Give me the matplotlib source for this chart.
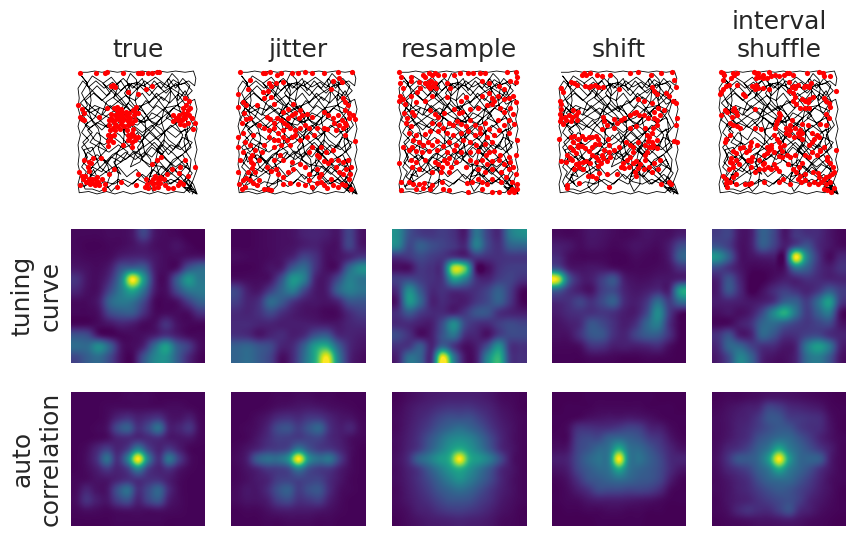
import numpy as np
import matplotlib
matplotlib.use("Agg")
import matplotlib.pyplot as plt

plt.rcParams["font.family"] = "DejaVu Sans"
plt.rcParams["text.color"] = "#262626"
plt.rcParams["axes.labelcolor"] = "#262626"

titles = ["true", "jitter", "resample", "shift", "interval\nshuffle"]
row_labels = ["tuning\ncurve", "auto\ncorrelation"]

# Animal trajectory in arena units (0-100, y measured from the top wall)
path_xy = [
    (2,1),(8,1),(14,0),(20,1),(27,0),(33,1),(40,0),(47,1),(54,0),(60,1),(68,0),(75,1),(82,0),(90,1),(97,0),(99,6),(98,12),(93,8),(86,11),(80,7),
    (74,14),(69,9),(62,13),(56,8),(50,15),(43,10),(36,16),(29,9),(22,14),(15,8),(9,13),(4,8),(0,14),(1,22),(0,30),(2,37),(0,45),(2,52),(0,60),(1,68),
    (0,76),(2,84),(0,92),(1,99),(9,98),(16,100),(24,98),(31,100),(38,98),(45,100),(53,98),(60,100),(67,98),(74,100),(82,98),(89,99),(95,93),(100,100),(93,97),(97,88),
    (100,80),(98,72),(100,64),(98,55),(100,47),(98,39),(100,31),(98,23),(90,27),(84,19),(77,26),(70,21),(63,30),(57,24),(50,33),(42,26),(35,35),(27,28),(20,36),(12,30),
    (6,24),(13,18),(20,24),(27,18),(21,10),(28,5),(34,12),(30,22),(38,28),(33,40),(25,46),(16,42),(8,48),(14,56),(22,60),(30,54),(38,60),(45,52),(52,58),(60,50),
    (67,56),(74,48),(82,54),(90,47),(93,58),(86,64),(78,60),(70,68),(62,62),(55,70),(47,65),(40,72),(32,67),(24,74),(16,68),(8,74),(5,64),(12,62),(18,78),(26,84),
    (34,78),(41,86),(49,80),(56,88),(63,80),(71,86),(78,78),(85,84),(92,76),(88,68),(80,72),(74,80),(67,72),(60,78),(54,72),(50,62),(56,54),(64,46),(70,38),(62,34),
    (56,42),(48,38),(44,46),(36,48),(28,40),(20,48),(12,40),(6,34),(14,28),(24,32),(32,26),(40,20),(48,24),(54,18),(60,26),(66,18),(72,24),(78,16),(84,24),(90,16),
    (94,24),(88,34),(80,30),(74,38),(82,42),(90,38),(94,46),(86,50),(78,44),(70,52),(62,44),(54,50),(46,44),(38,38),(30,46),(24,56),(16,50),(10,58),(18,62),(26,66),
    (34,60),(42,66),(36,74),(28,70),(20,82),(12,78),(6,86),(13,92),(10,84),(16,86),(13,80),(9,88),(15,94),(22,90),(30,92),(38,88),(46,92),(54,84),(62,90),(70,92),
    (78,88),(86,92),(92,86),(95,94),(90,90),(96,96),(88,94),(94,99),(84,88),(76,92),(68,84),(60,86),(66,76),(72,66),(64,58),(58,64),(52,74),(44,78),(48,68),(55,60),
    (50,50),(44,56),(38,50),(42,42),(50,44),(58,36),(66,28),(72,32),(78,36),(68,44),(60,40),(52,28),(44,32),(36,22),(28,14),(38,6),(46,14),(54,6),(58,16),(64,8),
    (70,14),(76,6),(82,14),(88,6),(94,12),(90,20),(82,10),(74,18),(67,12),(60,20),(52,12),(44,20),(36,8),(24,20),(16,12),(8,20),(2,26),(10,34),(18,30),(14,38),
    (6,44),(12,50),(4,58),(10,66),(18,58),(24,64),(16,72),(8,66),(4,74),(10,80),(20,70),(28,78),(36,84),(30,74),(40,66),(48,72),(56,66),(62,70),(70,60),(76,68),
    (84,60),(90,66),(96,58),(88,54),(80,64),(72,56),(66,64),(74,72),(82,78),(90,72),(94,80),(86,76),(78,84),(70,78),(64,86),(58,92),(50,88),(42,94),(34,88),(26,94),
    (18,98),(12,96),(6,96),(3,90),(7,82),(3,78),(8,70),(3,62),(9,56),(3,50),(8,42),(3,34),(8,28),(3,18),(8,10),(3,4),
    (7,9),(10,16),(11,24),(9,33),(12,41),(17,47),(19,55),(17,63),(20,71),(25,77),(27,85),(24,93),(28,98),(33,93),(34,84),(31,75),(33,66),(38,59),(39,50),(36,41),
    (38,32),(43,25),(44,16),(41,8),(44,2),(49,7),(50,15),(48,24),(51,33),(56,39),(57,48),(54,57),(56,66),(61,72),(62,81),(59,90),(63,98),(68,92),(68,83),(65,74),
    (67,65),(72,59),(73,50),(70,41),(72,32),(77,25),(78,16),(75,8),(79,2),(84,7),(85,15),(83,24),(86,33),(91,39),(92,48),(89,57),(91,66),(95,72),(94,81),(90,88),
    (94,95),(88,88),(80,78),(73,70),(65,62),(57,55),(48,47),(40,40),(31,33),(23,26),(15,19),(7,11),(12,4),(20,9),(30,18),(38,27),(47,35),(55,44),(63,51),(71,60),
    (80,67),(88,75),(96,83),(90,92),(82,86),(72,78),(60,76),(50,70),(42,60),(35,52),(24,45),(15,37),(6,30),(2,40),(10,46),(18,41),(26,35),(34,30),(44,37),(53,42),
    (64,38),(73,30),(83,28),(92,32),(85,41),(76,47),(66,54),(55,62),(44,69),(33,76),(22,83),(12,90),(5,94),(12,84),(20,77),(29,68),(38,63),(48,58),(58,49),(68,40),
    (78,32),(88,24),(96,16),(90,10),(80,12),(70,18),(60,25),(50,30),(40,35),(30,40),(20,35),(24,25),(33,19),(40,12),(50,9),(60,15),(68,24),(75,33),(82,43),(88,52),
    (84,62),(76,56),(70,47),(62,42),(55,33),(47,28),(39,18),(45,10),(55,12),(65,5),(72,10),(85,18),(95,25),(92,35),(97,44),(90,52),(95,62),(85,70),(78,76),(70,84),
    (78,92),(88,84),(97,92),(100,100),(92,95),(98,97),(96,100),
]

# Spike locations for each spike-time condition, same units as the trajectory
spikes_true = [
    (2,2),(15,2),(23,2),(24,1),(38,2),(50,2),(52,2),(54,2),(59,2),(62,2),(66,1),(68,1),(29,11),(30,12),(31,13),(28,12),(42,17),(50,19),(57,15),(62,12),
    (0,28),(3,31),(5,34),(3,39),(5,40),(2,37),(30,30),(33,29),(36,31),(28,35),(31,36),(34,34),(37,33),(40,36),(43,34),(46,32),(49,29),(26,40),(29,41),
    (32,39),(35,40),(38,38),(41,40),(44,38),(47,36),(50,34),(26,44),(29,46),(33,45),(36,43),(39,45),(42,44),(45,42),(48,40),(27,48),(31,48),(35,47),
    (25,52),(28,53),(25,57),(29,58),(41,48),(42,52),(45,50),(47,53),(42,56),(45,58),(48,56),(38,60),(45,62),(50,54),(25,61),(18,37),(24,30),
    (34,37),(37,41),(40,33),(31,43),(44,41),(28,38),(36,36),(42,37),(33,32),(48,33),(30,52),(27,55),(44,54),(46,47),
    (82,38),(85,36),(88,34),(80,36),(84,40),(87,40),(90,38),(93,36),(92,32),(91,28),(93,24),(90,22),(88,30),(86,43),(89,44),(92,42),(96,38),(98,42),(80,41),(97,47),(85,39),(89,37),(91,35),(94,30),
    (9,74),(11,75),(8,78),(9,81),(6,85),(4,88),(2,93),(7,90),(11,90),(14,93),(17,90),(20,88),(16,86),(23,92),(22,96),(3,85),(1,82),(12,88),(10,92),(14,88),(5,72),(13,71),(19,71),(9,88),(12,91),(15,91),(18,93),
    (26,84),(30,80),(33,94),(36,90),(49,93),(50,84),(57,88),(58,92),(59,95),(56,94),(63,92),(63,88),(65,85),(67,88),(69,91),(67,94),(70,87),(72,88),(75,84),(73,93),(61,90),(66,91),(64,95),(69,86),
    (76,95),(80,95),(84,93),(88,92),(86,90),(85,83),(86,78),(92,85),(98,78),(79,80),(62,76),(66,72),(70,70),(90,72),
]
spikes_jitter = [
    (2,1),(21,2),(23,2),(27,1),(33,3),(36,2),(45,2),(50,2),(56,1),(62,2),(72,2),(84,1),(96,1),(10,7),(26,10),(28,12),(32,10),(38,9),(8,15),(21,17),(25,16),(80,8),(85,6),(87,9),(78,15),
    (0,19),(4,25),(7,28),(22,22),(28,21),(30,27),(46,27),(42,31),(38,33),(52,32),(88,22),(90,25),(92,28),(90,32),(93,34),(0,29),(5,34),(7,39),(10,38),(3,42),(16,28),
    (24,37),(27,39),(30,42),(33,38),(36,40),(39,42),(42,38),(45,36),(48,34),(51,38),(54,36),(58,35),(62,37),(72,33),(76,36),(80,38),(84,36),(87,40),(90,42),(93,38),(97,36),(98,39),
    (85,44),(88,46),(91,44),(81,42),(18,44),(22,46),(26,48),(30,46),(34,50),(38,48),(41,44),(44,46),(48,48),(52,46),(56,44),(60,46),(66,46),(72,46),(75,47),(82,48),(13,52),(4,50),(0,54),
    (26,54),(30,56),(34,56),(38,54),(41,56),(45,54),(48,52),(52,56),(58,54),(64,52),(90,52),(98,57),(6,58),(10,60),(14,64),(22,60),(30,62),(36,60),(44,60),(62,62),(70,62),(80,64),
    (0,62),(4,66),(12,68),(20,66),(35,68),(60,66),(66,68),(74,66),(10,71),(11,74),(13,76),(12,79),(14,82),(18,72),(30,72),(38,72),(45,74),(52,76),(68,70),(72,73),(76,75),(78,72),(84,72),(88,74),(92,72),(95,78),
    (2,72),(0,82),(8,82),(24,78),(28,81),(32,80),(34,84),(38,86),(42,82),(46,80),(56,78),(60,84),(66,80),(70,84),(82,78),(85,82),(88,84),(91,80),(94,84),(93,88),
    (1,92),(4,89),(7,87),(10,89),(13,91),(16,93),(18,89),(3,96),(6,94),(22,96),(25,96),(28,97),(38,92),(44,91),(50,92),(56,93),(60,89),(62,94),(66,91),(68,86),(70,90),(72,93),(75,95),(78,88),(80,93),(84,94),(87,92),(90,93),(95,96),
]
spikes_resample = [
    (0,1),(2,5),(1,10),(3,14),(10,5),(20,3),(22,5),(25,2),(28,3),(30,2),(33,3),(38,3),(46,3),(51,2),(58,2),(62,2),(68,2),(72,2),(91,1),(98,1),(99,5),(98,9),
    (10,8),(17,9),(22,10),(24,12),(26,14),(28,12),(30,10),(31,14),(27,8),(25,9),(18,14),(15,17),(40,10),(43,14),(70,8),(76,10),(84,12),(88,15),(93,8),
    (1,20),(3,23),(5,27),(0,24),(10,20),(14,25),(22,24),(28,20),(40,21),(52,24),(56,21),(70,20),(76,18),(78,22),(80,24),(83,20),(88,23),(92,22),(96,20),(98,25),
    (4,34),(7,38),(11,33),(13,36),(26,32),(30,35),(33,37),(38,34),(46,31),(50,34),(53,33),(60,31),(66,30),(74,28),(78,27),(85,30),(88,33),(93,30),(96,35),
    (6,42),(10,45),(28,42),(34,43),(37,46),(42,42),(45,44),(49,41),(52,43),(56,45),(60,40),(64,44),(68,46),(72,42),(76,47),(83,40),(88,44),(92,40),(97,43),
    (8,50),(14,52),(22,51),(26,49),(33,49),(40,50),(45,52),(52,50),(58,49),(64,52),(68,50),(74,54),(80,52),(84,48),(92,50),
    (12,56),(17,58),(20,60),(24,58),(28,60),(32,57),(37,61),(42,58),(48,60),(54,56),(60,58),(65,60),(72,59),(78,58),(99,56),(3,62),(8,64),(11,62),(14,65),
    (19,66),(25,65),(32,64),(40,66),(46,64),(52,66),(60,66),(66,65),(73,68),(76,66),(80,65),(85,68),(92,70),(98,68),(0,75),(10,72),(14,74),(22,72),(30,74),
    (33,76),(36,78),(40,75),(44,78),(48,74),(38,72),(42,71),(60,72),(65,74),(70,72),(74,76),(78,73),(84,72),(88,76),(93,74),(96,78),(11,78),(17,80),(28,82),
    (35,82),(42,82),(56,78),(66,80),(72,82),(78,80),(86,82),(92,80),(98,84),(2,90),(8,90),(12,92),(17,92),(21,91),(28,93),(36,90),(57,91),(61,90),(66,88),(70,90),
    (74,92),(78,88),(86,90),(90,86),(95,90),(99,92),(2,97),(14,96),(20,95),(26,96),(37,96),(42,97),(58,98),(70,96),(78,98),(84,98),(92,98),(95,96),(97,98),(99,96),
]
spikes_shift = [
    (10,9),(13,10),(15,11),(19,3),(21,2),(23,3),(26,2),(32,3),(36,4),(43,3),(60,2),(66,1),(77,3),(86,2),(95,1),(97,7),(98,13),(27,12),(30,11),(33,13),(25,13),(22,12),(37,13),
    (2,14),(3,17),(1,24),(2,27),(50,15),(78,13),(80,16),(82,19),(90,18),(92,20),(96,24),(98,26),(66,23),(71,24),(78,26),(2,31),(1,35),(2,38),(1,41),(5,37),(8,36),(11,37),(14,36),(12,32),
    (3,43),(6,40),(10,41),(15,40),(16,33),(60,36),(63,34),(65,33),(67,36),(71,36),(75,38),(80,38),(80,33),(82,40),(82,44),(85,36),(83,30),(88,32),(79,46),(78,50),(76,54),(75,57),
    (99,38),(98,44),(37,37),(38,41),(40,44),(46,39),(49,42),(52,40),(55,38),(36,47),(46,46),(60,46),(65,45),(72,46),(74,52),(97,57),(99,58),(0,55),
    (10,54),(13,53),(16,55),(19,53),(22,55),(25,54),(28,54),(31,53),(33,55),(12,58),(16,60),(9,62),(12,64),(14,67),(16,62),(19,61),(22,63),(25,65),(28,62),(30,59),(34,59),(41,55),(42,60),
    (60,60),(66,58),(72,60),(78,58),(82,56),(79,60),(76,62),(82,63),(78,62),(74,66),(72,68),(72,72),(62,66),(62,62),(56,58),(50,62),(46,64),(42,66),(38,64),(36,68),
    (28,68),(31,70),(33,72),(37,71),(40,73),(43,70),(35,75),(33,77),(26,75),(23,73),(20,74),(17,75),(14,76),(11,72),(9,71),(7,68),(17,78),(20,80),(13,80),
    (60,70),(57,72),(54,75),(52,78),(55,79),(59,78),(62,75),(65,73),(68,76),(66,79),(64,82),(71,80),(76,78),(80,75),(85,72),(78,82),(83,80),(6,74),(2,73),(24,85),(31,87),(28,85),(34,83),(40,84),(49,84),(65,85),(7,93),(7,95),(42,94),(17,91),(86,92),(92,90),(94,92),
]
spikes_shuffle = [
    (2,1),(3,2),(4,3),(12,2),(13,3),(15,2),(29,1),(31,2),(33,2),(37,3),(42,1),(44,4),(34,5),(31,6),(37,6),(40,6),(47,3),(50,4),(55,3),(57,2),(59,2),(62,3),(74,2),(84,1),(87,2),(88,4),(93,4),
    (3,7),(10,6),(8,11),(28,12),(31,11),(33,14),(30,15),(37,14),(42,15),(59,9),(61,13),(63,12),(64,14),(66,11),(71,13),(72,12),(74,12),(76,13),(77,10),(98,16),(6,12),(3,15),(2,17),(1,19),(15,11),(20,19),(22,20),
    (59,16),(62,18),(64,21),(70,23),(72,24),(75,25),(76,23),(79,21),(88,22),(90,24),(92,26),(93,29),(5,32),(7,33),(12,32),(13,30),(14,33),(11,37),(2,36),(15,36),(30,31),(62,24),(65,27),(68,30),(72,30),(76,30),(90,35),(92,38),(50,34),(51,36),
    (50,38),(49,41),(48,43),(47,46),(61,40),(70,43),(75,44),(85,43),(90,44),(9,42),(12,44),(15,45),(18,46),(30,46),(35,47),(56,46),(60,44),(64,46),(68,48),(70,50),(56,50),(59,52),(60,48),
    (66,50),(67,53),(70,55),(63,54),(46,52),(49,55),(50,58),(51,62),(53,65),(55,60),(78,50),(82,52),(84,54),(80,55),(78,58),(76,60),(9,52),(6,55),(5,58),(27,58),(26,61),(25,64),(23,66),(32,60),(40,62),(44,60),(44,63),
    (42,64),(40,67),(38,68),(12,65),(14,67),(18,63),(20,62),(28,70),(27,73),(24,72),(85,64),(88,62),(10,71),(11,75),(12,78),(9,74),(8,80),(14,72),(17,76),(34,72),(38,75),(46,66),(50,69),(53,70),(57,68),(60,70),(64,68),(72,68),(76,70),(78,66),(82,68),(85,65),(91,70),(98,64),
    (38,80),(41,78),(44,80),(46,76),(37,76),(48,79),(50,81),(34,80),(27,78),(30,82),(58,76),(62,80),(67,78),(70,75),(91,72),(93,75),(96,78),(97,82),(95,84),(92,85),(3,85),(6,88),(9,90),(12,86),(14,84),
    (65,82),(68,85),(66,88),(69,90),(72,89),(76,92),(80,90),(83,92),(86,90),(88,88),(90,92),(83,83),(79,82),(84,86),(90,86),(93,90),(97,95),(6,91),(7,94),(14,92),(22,92),(25,92),(27,91),(38,90),(50,90),(54,88),(60,92),(88,96),(91,97),(94,98),(72,84),
]
spike_sets = [spikes_true, spikes_jitter, spikes_resample, spikes_shift, spikes_shuffle]

# Firing-rate maps, percent of the peak
tuning_true = [
    [2,2,2,3,3,6,20,6,3,2,0,0],
    [2,1,1,2,3,5,8,4,3,5,2,0],
    [3,2,2,3,8,10,10,6,3,3,5,6],
    [6,4,3,8,25,32,30,8,3,5,25,33],
    [14,5,4,14,42,100,55,10,4,28,52,40],
    [10,4,5,22,42,60,38,8,4,22,38,40],
    [3,3,8,32,40,38,22,3,2,5,18,30],
    [2,2,5,22,28,28,14,3,3,3,4,14],
    [2,2,3,6,10,8,3,4,14,5,2,2],
    [25,22,6,2,2,3,4,8,14,8,3,2],
    [35,35,48,30,6,3,10,35,55,30,18,4],
    [22,30,35,22,5,2,25,45,50,30,12,2],
]
tuning_jitter = [
    [1,1,2,3,4,5,9,10,8,6,20,6],
    [1,1,2,3,4,5,8,9,5,5,20,7],
    [3,2,2,3,5,10,20,14,4,5,10,16],
    [1,1,2,5,8,28,35,15,4,6,32,48],
    [4,3,3,6,25,52,42,10,7,22,42,38],
    [20,8,6,18,32,42,22,7,8,30,42,38],
    [18,10,14,34,28,16,8,6,5,10,25,26],
    [12,10,14,22,14,8,5,4,2,3,12,18],
    [12,12,10,10,8,8,8,8,7,6,10,12],
    [14,12,6,10,12,8,12,25,28,12,10,8],
    [30,32,26,22,10,12,30,55,62,32,12,6],
    [32,35,28,20,4,12,35,62,100,45,12,4],
]
tuning_resample = [
    [48,25,18,16,18,14,8,38,20,12,40,48],
    [45,22,30,24,20,16,12,42,22,14,30,32],
    [14,16,22,18,15,16,12,16,14,14,16,16],
    [4,4,16,14,18,90,75,5,4,14,18,18],
    [18,22,18,14,16,55,42,14,10,18,20,14],
    [14,48,28,12,14,14,14,14,20,30,18,3],
    [8,52,34,10,12,8,8,16,22,30,16,2],
    [14,28,18,12,12,10,16,26,26,14,10,8],
    [12,12,8,8,24,48,22,14,12,18,22,20],
    [22,14,4,8,26,38,14,10,5,18,22,22],
    [14,16,28,10,32,16,4,8,25,50,16,14],
    [10,36,32,14,100,40,6,8,45,65,18,14],
]
tuning_shift = [
    [3,2,3,6,5,3,2,3,5,4,4,8],
    [8,6,3,5,4,2,3,5,4,3,8,22],
    [12,4,2,2,2,1,1,3,2,2,8,30],
    [25,8,5,6,6,4,2,2,2,3,5,14],
    [95,30,10,8,18,26,8,4,4,6,6,10],
    [30,15,8,5,18,22,10,6,8,12,10,55],
    [12,14,20,14,22,30,12,8,16,35,18,35],
    [8,12,14,14,16,14,8,8,22,48,18,4],
    [5,8,12,26,22,14,8,14,32,42,14,1],
    [4,5,14,26,26,14,10,20,28,28,14,1],
    [2,2,4,14,14,8,8,8,10,12,4,0],
    [1,1,1,3,3,2,1,1,2,2,1,0],
]
tuning_shuffle = [
    [18,20,6,8,30,22,6,16,14,12,6,2],
    [25,18,5,8,28,20,8,22,26,12,6,3],
    [50,30,6,5,8,8,6,100,45,16,3,10],
    [22,14,6,2,2,3,5,38,30,14,8,14],
    [10,25,10,0,0,4,8,10,14,12,10,10],
    [8,26,12,0,4,12,18,14,10,16,28,18],
    [8,10,8,6,8,14,30,30,18,35,55,18],
    [4,6,4,8,22,45,62,38,18,30,40,5],
    [2,3,8,14,32,35,28,20,16,20,22,6],
    [14,24,8,10,32,26,14,14,20,22,14,10],
    [12,32,32,20,14,12,6,10,40,55,40,10],
    [8,22,45,32,10,5,4,10,35,42,28,6],
]
tuning_maps = [tuning_true, tuning_jitter, tuning_resample, tuning_shift, tuning_shuffle]

# Spatial autocorrelograms, percent of the central peak
auto_true = [
    [1,1,1,1,1,2,2,2,1,1,1,1,1],
    [1,1,1,2,3,3,3,3,3,3,3,2,1],
    [1,1,1,3,10,14,9,12,15,6,5,8,2],
    [1,1,2,5,22,30,14,22,36,10,10,15,3],
    [1,1,2,4,10,12,12,12,13,7,6,6,2],
    [1,3,10,18,10,18,42,20,10,16,8,2,1],
    [1,4,14,36,14,42,100,42,14,38,18,4,1],
    [1,3,8,16,10,18,42,18,10,14,6,2,1],
    [2,3,5,6,10,14,14,14,14,8,3,1,1],
    [3,10,5,6,24,36,14,22,32,12,3,1,1],
    [4,14,8,6,18,24,10,20,26,8,3,1,1],
    [2,4,3,2,4,5,4,4,5,3,2,1,1],
    [1,1,1,1,2,2,2,2,2,1,1,1,1],
]
auto_jitter = [
    [1,1,1,1,2,2,3,3,2,2,1,1,1],
    [1,1,1,2,4,5,6,7,6,4,3,2,1],
    [1,1,3,6,12,14,12,16,16,10,6,5,2],
    [1,2,4,10,22,25,18,26,32,14,8,10,3],
    [1,2,6,12,18,18,18,20,20,12,8,4,2],
    [2,5,10,16,18,22,40,26,18,16,10,4,1],
    [3,8,28,36,36,50,100,50,36,38,18,4,1],
    [2,5,10,16,18,22,40,24,18,16,8,3,1],
    [2,4,7,10,18,20,20,20,20,12,6,2,1],
    [3,6,6,12,24,30,18,24,26,12,4,2,1],
    [3,5,5,8,18,22,14,16,18,8,3,1,1],
    [1,2,2,4,7,8,7,7,6,4,2,1,1],
    [1,1,1,2,2,3,3,3,2,2,1,1,1],
]
auto_resample = [
    [1,3,5,7,8,9,9,9,8,6,3,2,1],
    [2,5,8,10,13,15,15,15,12,9,5,3,1],
    [3,6,10,14,20,24,24,24,18,12,7,4,2],
    [3,7,12,18,26,32,36,32,25,16,9,5,2],
    [4,8,14,24,34,44,48,44,34,22,11,5,2],
    [4,9,16,28,40,52,62,52,40,26,12,6,2],
    [5,12,30,40,52,62,100,62,52,40,22,6,2],
    [4,9,16,28,40,52,62,50,38,26,12,6,2],
    [4,8,14,22,32,42,50,42,32,22,11,5,2],
    [3,7,12,18,26,32,36,32,24,16,9,5,2],
    [3,6,10,14,20,25,26,24,18,13,7,4,2],
    [2,4,8,10,14,17,18,16,13,9,5,3,1],
    [1,3,5,7,8,9,10,9,8,6,3,2,1],
]
auto_shift = [
    [0,0,0,1,1,1,1,1,1,1,0,0,0],
    [0,1,1,1,2,2,2,2,2,1,1,1,0],
    [1,1,2,4,5,6,6,7,6,4,2,1,1],
    [1,3,13,14,13,14,17,20,18,10,8,3,1],
    [2,3,18,22,22,30,34,30,26,18,14,6,2],
    [4,6,20,26,33,38,62,38,34,26,18,10,5],
    [8,10,22,32,38,42,100,42,38,30,22,12,10],
    [5,8,20,28,34,38,60,38,32,28,22,12,6],
    [2,5,14,24,28,32,36,32,28,26,20,8,2],
    [1,3,8,14,22,22,22,20,20,18,12,3,1],
    [1,2,3,6,8,8,8,7,6,5,3,1,1],
    [0,1,1,2,2,3,3,2,2,1,1,0,0],
    [0,0,0,0,1,1,1,1,1,0,0,0,0],
]
auto_shuffle = [
    [1,2,2,3,4,6,6,5,4,3,2,1,0],
    [2,4,6,8,10,20,18,12,10,8,6,2,1],
    [3,5,8,10,16,26,26,18,16,14,12,4,1],
    [3,5,9,12,18,24,28,26,18,14,12,5,1],
    [3,6,10,14,24,30,36,34,26,18,10,5,2],
    [4,10,14,20,30,40,60,42,32,24,16,8,2],
    [5,14,26,28,34,55,100,55,34,32,28,8,2],
    [4,10,15,20,30,40,60,42,32,24,14,6,2],
    [3,6,10,14,24,32,36,34,26,18,10,4,2],
    [3,5,9,12,18,24,28,26,20,14,8,4,1],
    [2,5,8,10,14,18,22,24,18,10,6,3,1],
    [2,4,10,14,12,12,18,24,12,8,4,2,1],
    [1,2,3,4,5,5,6,7,5,3,2,1,0],
]
auto_maps = [auto_true, auto_jitter, auto_resample, auto_shift, auto_shuffle]

FIG_W, FIG_H = 855, 536
COL_LEFT = [71, 231, 392, 552, 712]
ROW_TOP = [65.5, 229, 392]
PANEL = 134


def panel_axes(fig, left, top):
    ax = fig.add_axes([left / FIG_W, 1 - (top + PANEL) / FIG_H, PANEL / FIG_W, PANEL / FIG_H])
    ax.set_xticks([])
    ax.set_yticks([])
    for spine in ax.spines.values():
        spine.set_visible(False)
    return ax


fig = plt.figure(figsize=(FIG_W / 100, FIG_H / 100), dpi=100)
path_x, path_y = zip(*path_xy)

for col, left in enumerate(COL_LEFT):
    ax = panel_axes(fig, left, ROW_TOP[0])
    ax.plot(path_x, path_y, color="black", lw=0.6, solid_joinstyle="round")
    sx, sy = zip(*spike_sets[col])
    ax.scatter(sx, sy, s=14, color="red", linewidths=0, zorder=3, clip_on=False)
    ax.set_xlim(-5.9, 106.7)
    ax.set_ylim(104.5, -4.5)
    ax.set_title(titles[col], fontsize=18)

    for row, maps in zip((1, 2), (tuning_maps, auto_maps)):
        ax = panel_axes(fig, left, ROW_TOP[row])
        ax.imshow(np.array(maps[col], dtype=float), cmap="viridis", vmin=0, vmax=100,
                  interpolation="catrom", aspect="auto")
        if col == 0:
            ax.set_ylabel(row_labels[row - 1], fontsize=18, labelpad=6)

fig.savefig("out.png", dpi=100)
